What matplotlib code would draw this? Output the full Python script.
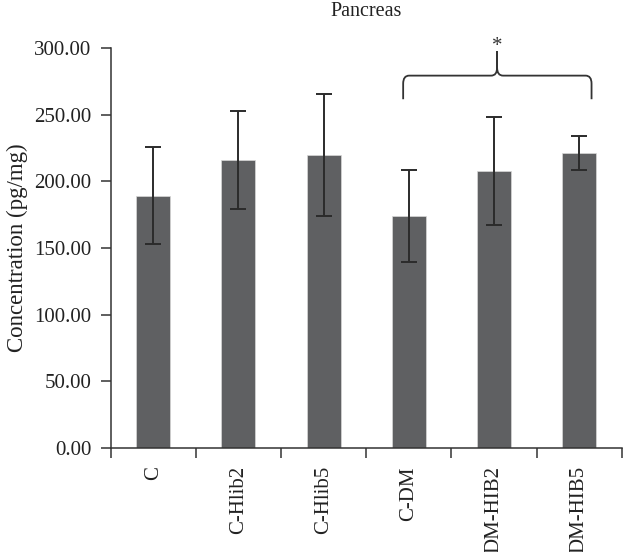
import matplotlib
matplotlib.use("Agg")
import matplotlib.pyplot as plt
import numpy as np
from matplotlib.path import Path
from matplotlib.patches import PathPatch

groups = ['C', 'C-Hlib2', 'C-Hlib5', 'C-DM', 'DM-HIB2', 'DM-HIB5']
conc = [189.3, 215.8, 219.6, 173.8, 207.8, 221.3]
sd = [36.3, 36.8, 45.6, 34.6, 40.8, 13.0]
yticks = [0, 50, 100, 150, 200, 250, 300]

plt.rcParams['font.family'] = ['Liberation Serif', 'DejaVu Serif']

fig = plt.figure(figsize=(6.23, 5.52), dpi=100)
ax = fig.add_axes([0.1777, 0.1884, 0.8202, 0.7246])

x = np.arange(len(groups))
ax.bar(x, conc, width=0.4, color='#5f6062', edgecolor='#d8d8d8', linewidth=0.5, zorder=2)
ax.errorbar(x, conc, yerr=sd, fmt='none', ecolor='#2b2b2b', elinewidth=1.4,
            capsize=5.5, capthick=1.4, zorder=3)

ax.set_xlim(-0.5, len(groups) - 0.5)
ax.set_ylim(0, 300)
ax.set_yticks(yticks)
ax.set_yticklabels(['%.2f' % v for v in yticks], fontsize=15)
ax.set_xticks(x)
ax.set_xticklabels(groups, rotation=90, fontsize=15, va='top', ha='center')
ax.set_xticks(np.arange(len(groups) + 1) - 0.5, minor=True)
ax.tick_params(axis='x', which='major', length=0, pad=13)
ax.tick_params(axis='x', which='minor', length=7, width=1.1, color='#333333', direction='out')
ax.tick_params(axis='y', length=7, width=1.1, color='#333333', pad=7, labelcolor='#222222')
ax.tick_params(axis='x', labelcolor='#222222')

for s in ['top', 'right']:
    ax.spines[s].set_visible(False)
for s in ['left', 'bottom']:
    ax.spines[s].set_linewidth(1.1)
    ax.spines[s].set_color('#333333')

ax.set_ylabel('Concentration (pg/mg)', fontsize=16.5, color='#222222')
ax.yaxis.set_label_coords(-0.162, 0.5)
fig.text(366 / 623, 1 - 11 / 552, 'Pancreas', ha='center', va='center', fontsize=14.5, color='#222222')

# brace over C-DM .. DM-HIB5
xl, xr, xt = 2.934, 5.146, 4.037
yh, ye, ytop = 279.3, 261.6, 297.5
dx, dy = 0.07, 6.0
verts = [(xl, ye), (xl, yh - dy), (xl, yh), (xl + dx, yh),
         (xt - dx, yh), (xt, yh), (xt, yh + dy), (xt, ytop),
         (xt, yh + dy), (xt, yh), (xt + dx, yh),
         (xr - dx, yh), (xr, yh), (xr, yh - dy), (xr, ye)]
codes = [Path.MOVETO, Path.LINETO, Path.CURVE3, Path.CURVE3,
         Path.LINETO, Path.CURVE3, Path.CURVE3, Path.LINETO,
         Path.LINETO, Path.CURVE3, Path.CURVE3,
         Path.LINETO, Path.CURVE3, Path.CURVE3, Path.LINETO]
ax.add_patch(PathPatch(Path(verts, codes), fill=False, edgecolor='#333333',
                       linewidth=1.3, clip_on=False))
ax.text(xt, 294, '*', ha='center', va='bottom', fontsize=15, color='#333333', clip_on=False)

fig.savefig('out.png', dpi=100)
